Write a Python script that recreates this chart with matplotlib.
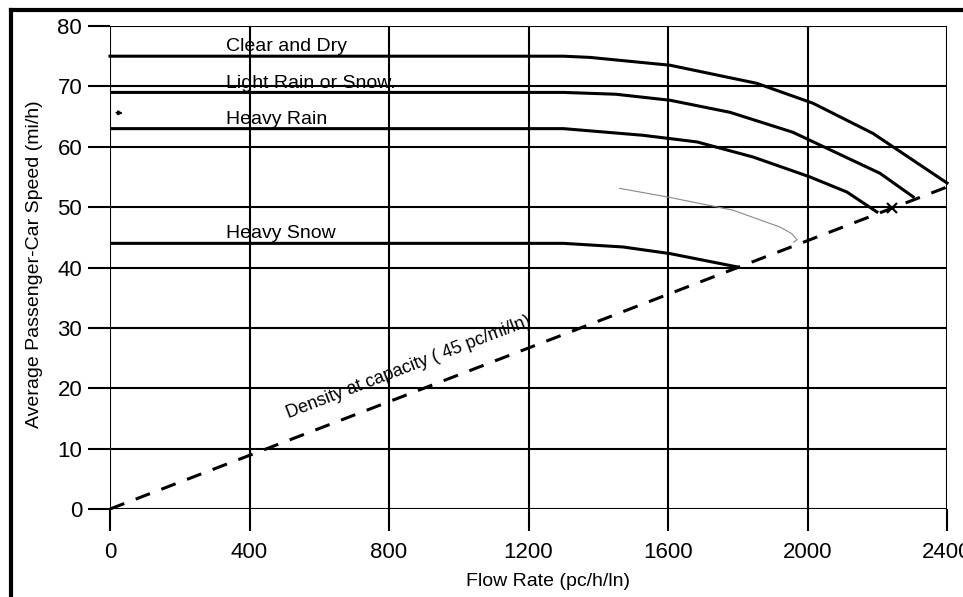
import numpy as np
import matplotlib.pyplot as plt
from matplotlib.lines import Line2D

# curvas velocidade x fluxo
clear_x = [0, 1300, 1376, 1606, 1855, 2016, 2188, 2400]
clear_y = [75, 75, 74.8, 73.5, 70.5, 67.2, 62.2, 54.0]

lrain_x = [0, 1300, 1450, 1606, 1778, 1958, 2208, 2303]
lrain_y = [69, 69, 68.7, 67.7, 65.7, 62.4, 55.6, 51.7]

hrain_x = [0, 1300, 1528, 1683, 1844, 2007, 2113, 2199]
hrain_y = [63, 63, 61.9, 60.8, 58.3, 55.0, 52.5, 49.2]

hsnow_x = [0, 1300, 1471, 1606, 1798]
hsnow_y = [44, 44, 43.4, 42.3, 40.1]

# rabisco a lapis e marca "x"
pencil_x = [1462, 1597, 1786, 1921, 1955, 1970, 1960]
pencil_y = [53.1, 51.7, 49.5, 46.7, 45.6, 44.6, 44.2]
mark_x, mark_y = 2242, 49.8

density = 45  # pc/mi/ln
dens_x = np.array([0, 2400])

xticks = [0, 400, 800, 1200, 1600, 2000, 2400]
yticks = [0, 10, 20, 30, 40, 50, 60, 70, 80]

plt.rcParams['font.family'] = ['Liberation Sans', 'DejaVu Sans']

fig = plt.figure(figsize=(9.63, 5.97), dpi=100, facecolor='white')
ax = fig.add_axes([110/963, 1-509/597, (947-110)/963, (509-26)/597])

ax.set_xlim(0, 2400)
ax.set_ylim(0, 80)
ax.set_xticks(xticks)
ax.set_yticks(yticks)
ax.grid(True, color='black', linewidth=1.5)
for s in ax.spines.values():
    s.set_visible(False)
ax.tick_params(axis='both', direction='out', length=16, width=1.5, labelsize=16)
ax.tick_params(axis='x', pad=8)
ax.tick_params(axis='y', pad=4)
ax.set_axisbelow(True)

lw = 2.2
ax.plot(clear_x, clear_y, color='black', linewidth=lw, clip_on=False)
ax.plot(lrain_x, lrain_y, color='black', linewidth=lw)
ax.plot(hrain_x, hrain_y, color='black', linewidth=lw)
ax.plot(hsnow_x, hsnow_y, color='black', linewidth=lw)
ax.plot(dens_x, dens_x/density, color='black', linewidth=2.2, linestyle=(0, (5, 4)), clip_on=False)
ax.plot(pencil_x, pencil_y, color='#888888', linewidth=0.8)
ax.plot(mark_x, mark_y, marker='x', color='black', markersize=7, markeredgewidth=1.5)
ax.annotate('', xy=(45, 65.5), xytext=(10, 65.7),
            arrowprops=dict(arrowstyle='-|>', color='black', lw=1.2, mutation_scale=6))

lab_fs = 14
ax.text(333, 75.15, 'Clear and Dry', fontsize=lab_fs, va='bottom')
ax.text(333, 69.15, 'Light Rain or Snow.', fontsize=lab_fs, va='bottom')
ax.text(333, 63.15, 'Heavy Rain', fontsize=lab_fs, va='bottom')
ax.text(333, 44.15, 'Heavy Snow', fontsize=lab_fs, va='bottom')
ax.text(865, 22.2, 'Density at capacity ( 45 pc/mi/ln)', fontsize=13,
        rotation=21, rotation_mode='anchor', ha='center', va='bottom')

ax.set_xlabel('Flow Rate (pc/h/ln)', fontsize=14)
ax.xaxis.set_label_coords((548-110)/837, -(573-509)/483)
ax.set_ylabel('Average Passenger-Car Speed (mi/h)', fontsize=14)
ax.yaxis.set_label_coords(-(110-43)/837, (509-264)/483)

# moldura da figura (so esquerda e topo)
fig.add_artist(Line2D([11/963, 11/963], [0, 1-10/597], transform=fig.transFigure, color='black', linewidth=3))
fig.add_artist(Line2D([11/963, 1], [1-10/597, 1-10/597], transform=fig.transFigure, color='black', linewidth=3))

plt.savefig('out.png', dpi=100, facecolor='white')
